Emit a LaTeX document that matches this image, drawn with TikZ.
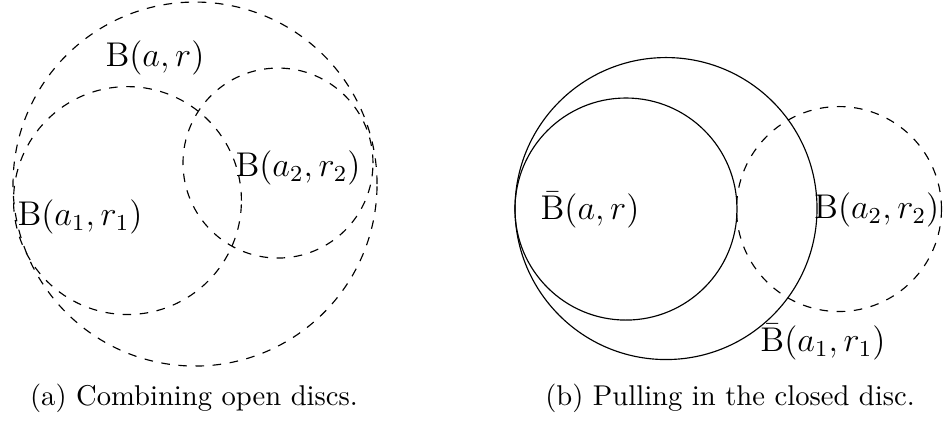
\documentclass[tikz,border=0pt]{standalone}
\usetikzlibrary{positioning}

\begin{document}
\begin{tikzpicture}[
    open disc/.style={black, dashed, line width=0.4pt},
    closed disc/.style={black, line width=0.4pt},
    disc label/.style={font=\large, inner sep=1pt},
    caption/.style={inner sep=0pt},
]
\useasboundingbox (0,0) rectangle (11.597,5.197);

% (a) Combining open discs
\coordinate (a) at (2.396,2.936);
\coordinate (a1) at (1.566,2.733);
\coordinate (a2) at (3.415,3.194);
\draw[open disc] (a) circle (2.236);
\draw[open disc] (a1) circle (1.400);
\draw[open disc] (a2) circle (1.167);
\node[disc label] (Bar) at (1.904,4.484) {$\mathrm{B}(a,r)$};
\node[disc label] (Ba1r1) at (0.983,2.531) {$\mathrm{B}(a_1,r_1)$};
\node[disc label] (Ba2r2) at (3.661,3.133) {$\mathrm{B}(a_2,r_2)$};
\node[caption] (capA) at (2.383,0.307) {(a) Combining open discs.};

% (b) Pulling in the closed disc
\coordinate (b) at (8.182,2.635);
\coordinate (b1) at (7.690,2.629);
\coordinate (b2) at (10.307,2.629);
\draw[closed disc] (b) circle (1.855);
\draw[closed disc] (b1) circle (1.364);
\draw[open disc] (b2) circle (1.259);
\node[disc label] (cBar) at (7.248,2.617) {$\bar{\mathrm{B}}(a,r)$};
\node[disc label] (cBa1r1) at (10.110,0.995) {$\bar{\mathrm{B}}(a_1,r_1)$};
\node[disc label] (cBa2r2) at (10.770,2.617) {$\mathrm{B}(a_2,r_2)$};
\node[caption] (capB) at (8.968,0.307) {(b) Pulling in the closed disc.};

\end{tikzpicture}
\end{document}
